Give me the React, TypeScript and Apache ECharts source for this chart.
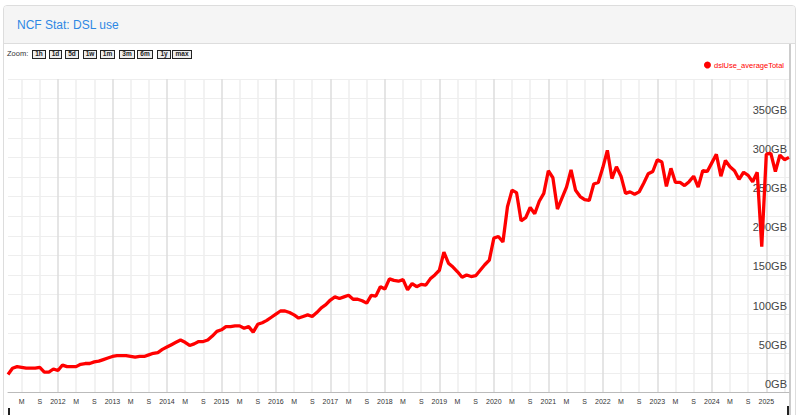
import React, { useEffect, useRef } from "react";
import * as echarts from "echarts";

// ---- data ----
const START_YEAR = 2011;
const START_MONTH = 2; // February 2011, one value per month
const dslUse: number[] = [
  23, 31, 33, 32, 31, 31, 31, 32, 26, 26, 30,
  28, 35, 33, 33, 33, 36, 37, 37, 39, 40, 42, 44,
  46, 47, 47, 47, 46, 45, 46, 46, 48, 50, 51, 55,
  58, 61, 64, 67, 64, 60, 62, 65, 65, 67, 72, 78,
  80, 84, 84, 85, 85, 82, 84, 77, 87, 89, 92, 96,
  100, 104, 104, 102, 99, 95, 97, 99, 97, 102, 108, 112,
  118, 122, 120, 122, 124, 119, 119, 117, 114, 124, 123, 135,
  132, 145, 143, 142, 144, 131, 139, 135, 138, 137, 145, 150,
  156, 179, 165, 160, 154, 147, 150, 148, 149, 156, 163, 169,
  197, 199, 192, 237, 258, 255, 219, 223, 236, 228, 244, 254,
  283, 274, 234, 248, 262, 284, 258, 250, 246, 245, 266, 268,
  287, 309, 273, 288, 276, 254, 256, 253, 256, 267, 279, 282,
  297, 294, 263, 286, 268, 268, 264, 269, 276, 262, 283, 282,
  293, 304, 276, 296, 288, 283, 272, 281, 277, 269, 281, 186,
  304, 305, 282, 303, 297, 300,
];
const SERIES_NAME = "dslUse_averageTotal";
const MONTH_TICK_LABELS: Record<number, string> = { 5: "M", 9: "S" };
const Y_LABEL_STEP = 50;
const Y_MAX = 400;
const ZOOM_BUTTONS = ["1h", "1d", "5d", "1w", "1m", "3m", "6m", "1y", "max"];

const months: string[] = dslUse.map((_, i) => {
  const t = START_MONTH - 1 + i;
  const y = START_YEAR + Math.floor(t / 12);
  const m = (t % 12) + 1;
  return `${y}-${String(m).padStart(2, "0")}`;
});
const monthOf = (v: string) => parseInt(v.slice(5, 7), 10);

const FONT = "'Liberation Sans', Arial, sans-serif";

export default function App() {
  const ref = useRef<HTMLDivElement>(null);
  useEffect(() => {
    document.body.style.margin = "0";
    if (!ref.current) return;
    const chart = echarts.init(ref.current, undefined, { renderer: "svg" });
    chart.setOption({
      animation: false,
      textStyle: { fontFamily: FONT },
      grid: { left: 8, right: 11, top: 35, bottom: 22.5 },
      legend: {
        right: 16,
        top: 17,
        icon: "circle",
        itemWidth: 7,
        itemHeight: 7,
        itemGap: 4,
        padding: 0,
        textStyle: { color: "#ff0000", fontSize: 7.5, fontFamily: FONT, padding: [0, 0, 0, -2] },
        data: [SERIES_NAME],
      },
      xAxis: [
        {
          type: "category",
          data: months,
          boundaryGap: false,
          axisLine: { lineStyle: { color: "#bbbbbb", width: 1 } },
          axisTick: { show: false },
          axisLabel: {
            interval: (i: number, v: string) => [1, 5, 9].includes(monthOf(v)) && i < months.length - 2,
            formatter: (v: string) => {
              const m = monthOf(v);
              return m === 1 ? v.slice(0, 4) : MONTH_TICK_LABELS[m] || "";
            },
            fontSize: 7,
            color: "#333",
            margin: 5,
            fontFamily: FONT,
          },
          splitLine: {
            show: true,
            interval: (_i: number, v: string) => monthOf(v) === 1,
            lineStyle: { color: "#dcdcdc", width: 1.5 },
          },
        },
        {
          type: "category",
          data: months,
          boundaryGap: false,
          position: "bottom",
          axisLine: { show: false },
          axisTick: { show: false },
          axisLabel: { show: false },
          splitLine: {
            show: true,
            interval: (_i: number, v: string) => {
              const m = monthOf(v);
              return m === 5 || m === 9;
            },
            lineStyle: { color: "#eeeeee", width: 1.5 },
          },
        },
      ],
      yAxis: {
        type: "value",
        position: "right",
        min: 0,
        max: Y_MAX,
        interval: 25,
        axisLine: { show: false },
        axisTick: { show: false },
        axisLabel: {
          inside: true,
          formatter: (v: number) => (v % Y_LABEL_STEP === 0 && v < Y_MAX ? `${v}GB` : ""),
          fontSize: 11,
          color: "#444",
          verticalAlign: "bottom",
          margin: 2,
          padding: [0, 0, 3, 0],
          fontFamily: FONT,
        },
        splitLine: { lineStyle: { color: "#eeeeee", width: 1 } },
      },
      series: [
        {
          name: SERIES_NAME,
          type: "line",
          data: dslUse,
          showSymbol: false,
          symbol: "circle",
          lineStyle: { color: "#ff0000", width: 3.3 },
          itemStyle: { color: "#ff0000" },
        },
      ],
    });
    return () => chart.dispose();
  }, []);

  const btnLefts = [32, 49, 65, 83, 100, 119, 137, 157, 172];
  const btnWidths = [14, 13, 14, 14, 15, 16, 16, 14, 20];

  return (
    <div style={{ position: "absolute", left: 0, top: 0, width: 800, height: 415, overflow: "hidden", background: "#fff", fontFamily: FONT }}>
      <div style={{ position: "absolute", left: 3, top: 5, width: 793, height: 430, border: "1px solid #dddddd", borderRadius: 4, boxSizing: "border-box" }} />
      <div style={{ position: "absolute", left: 4, top: 6, width: 791, height: 37, background: "#f5f5f5", borderBottom: "1px solid #dddddd", borderTopLeftRadius: 3, borderTopRightRadius: 3 }} />
      <div style={{ position: "absolute", left: 17, top: 16, fontSize: 12, color: "#2d88e4", whiteSpace: "nowrap", lineHeight: "18px" }}>NCF Stat: DSL use</div>
      <div style={{ position: "absolute", left: 7, top: 49, fontSize: 7.5, color: "#333", lineHeight: "10px" }}>Zoom:</div>
      {ZOOM_BUTTONS.map((b, i) => (
        <div key={b} style={{ position: "absolute", left: btnLefts[i], top: 50, width: btnWidths[i], height: 9, boxSizing: "border-box", border: "1.5px solid #222", background: "#eeeeee", fontSize: 6.5, fontWeight: "bold", lineHeight: "6px", textAlign: "center", color: "#222" }}>{b}</div>
      ))}
      <div style={{ position: "absolute", left: 789, top: 44, width: 2, height: 371, background: "#cccccc" }} />
      <div style={{ position: "absolute", left: 8, top: 408, width: 2, height: 7, background: "#222" }} />
      <div style={{ position: "absolute", left: 787, top: 406, width: 2, height: 9, background: "#222" }} />
      <div ref={ref} style={{ position: "absolute", left: 0, top: 44, width: 800, height: 371 }} />
    </div>
  );
}
